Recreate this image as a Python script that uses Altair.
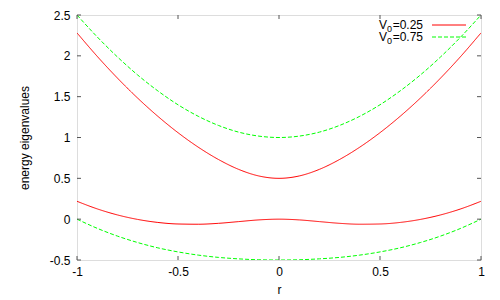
import altair as alt
import pandas as pd

r = [-1.0, -0.9, -0.8, -0.7, -0.6, -0.5, -0.4, -0.3, -0.2, -0.1, 0.0,
     0.1, 0.2, 0.3, 0.4, 0.5, 0.6, 0.7, 0.8, 0.9, 1.0]
red_upper = [2.281, 1.994, 1.728, 1.483, 1.260, 1.059, 0.882, 0.731, 0.610, 0.529, 0.500,
             0.529, 0.610, 0.731, 0.882, 1.059, 1.260, 1.483, 1.728, 1.994, 2.281]
red_lower = [0.219, 0.126, 0.052, -0.003, -0.040, -0.059, -0.062, -0.051, -0.030, -0.009, 0.000,
             -0.009, -0.030, -0.051, -0.062, -0.059, -0.040, -0.003, 0.052, 0.126, 0.219]
green_upper = [2.500, 2.232, 1.987, 1.766, 1.571, 1.401, 1.260, 1.148, 1.066, 1.017, 1.000,
               1.017, 1.066, 1.148, 1.260, 1.401, 1.571, 1.766, 1.987, 2.232, 2.500]
green_lower = [0.000, -0.112, -0.207, -0.286, -0.351, -0.401, -0.440, -0.468, -0.486, -0.497, -0.500,
               -0.497, -0.486, -0.468, -0.440, -0.401, -0.351, -0.286, -0.207, -0.112, 0.000]

legend_values = ["=0.25", "=0.75"]
x_ticks = [-1, -0.5, 0, 0.5, 1]
y_ticks = [-0.5, 0, 0.5, 1, 1.5, 2, 2.5]

rows = []
for name, branch, vals in [("0.25", "u", red_upper), ("0.25", "l", red_lower),
                           ("0.75", "u", green_upper), ("0.75", "l", green_lower)]:
    for xi, yi in zip(r, vals):
        rows.append({"r": xi, "E": yi, "V0": name, "key": name + branch})
df = pd.DataFrame(rows)

W, H = 404, 245
FONT = "Liberation Sans"
RED, GREEN = "#ff0000", "#00ff00"
xs = alt.Scale(domain=[-1, 1], nice=False, zero=False)
ys = alt.Scale(domain=[-0.5, 2.5], nice=False, zero=False)

axis_common = dict(ticks=False, domain=False, grid=False, labelFlush=False,
                   labelFontSize=12, titleFontSize=12, titleFontWeight="normal",
                   labelColor="#000", titleColor="#000", labelFont=FONT, titleFont=FONT,
                   labelExpr="datum.value")

lines = alt.Chart(df).mark_line(strokeWidth=1, interpolate="monotone", clip=True).encode(
    x=alt.X("r:Q", scale=xs, title="r",
            axis=alt.Axis(values=x_ticks, labelPadding=6, titlePadding=7, **axis_common)),
    y=alt.Y("E:Q", scale=ys, title="energy eigenvalues",
            axis=alt.Axis(values=y_ticks, labelPadding=7, titlePadding=18, **axis_common)),
    color=alt.Color("V0:N", scale=alt.Scale(domain=["0.25", "0.75"], range=[RED, GREEN]),
                    legend=None),
    strokeDash=alt.StrokeDash("V0:N", scale=alt.Scale(domain=["0.25", "0.75"], range=[[1, 0], [4, 2]]),
                              legend=None),
    detail="key:N",
)

xt = pd.DataFrame({"v": x_ticks})
yt = pd.DataFrame({"v": y_ticks})
tick_col = "#555555"
xb = alt.Chart(xt).mark_rule(color=tick_col, strokeWidth=1).encode(
    x=alt.X("v:Q", scale=xs), y=alt.value(H), y2=alt.value(H - 4))
xtp = alt.Chart(xt).mark_rule(color=tick_col, strokeWidth=1).encode(
    x=alt.X("v:Q", scale=xs), y=alt.value(0), y2=alt.value(4))
yl = alt.Chart(yt).mark_rule(color=tick_col, strokeWidth=1).encode(
    y=alt.Y("v:Q", scale=ys), x=alt.value(0), x2=alt.value(4))
yr = alt.Chart(yt).mark_rule(color=tick_col, strokeWidth=1).encode(
    y=alt.Y("v:Q", scale=ys), x=alt.value(W - 4), x2=alt.value(W))


def legend_entry(val, ybase, color, dash):
    d = pd.DataFrame({"t": [val], "v": ["V"], "s": ["0"]})
    base = alt.Chart(d)
    tv = base.mark_text(align="left", baseline="alphabetic", fontSize=12, font=FONT, color="#000").encode(
        text="v:N", x=alt.value(302), y=alt.value(ybase))
    ts = base.mark_text(align="left", baseline="alphabetic", fontSize=9, font=FONT, color="#000").encode(
        text="s:N", x=alt.value(310), y=alt.value(ybase + 3))
    tn = base.mark_text(align="right", baseline="alphabetic", fontSize=12, font=FONT, color="#000").encode(
        text="t:N", x=alt.value(346), y=alt.value(ybase))
    props = dict(color=color, strokeWidth=1)
    if dash:
        props["strokeDash"] = dash
    s = base.mark_rule(**props).encode(x=alt.value(355), x2=alt.value(389), y=alt.value(ybase - 4))
    return [tv, ts, tn, s]


leg = legend_entry(legend_values[0], 14, RED, None) + legend_entry(legend_values[1], 26, GREEN, [4, 2])

chart = alt.layer(lines, xb, xtp, yl, yr, *leg).properties(
    width=W, height=H,
    autosize=alt.AutoSizeParams(type="none"),
    padding={"left": 69, "top": 7, "right": 11, "bottom": 37},
).configure_view(stroke="#606060", strokeWidth=1.5).configure(background="white")

chart.save("out.html", embed_options={"renderer": "svg", "actions": False})
